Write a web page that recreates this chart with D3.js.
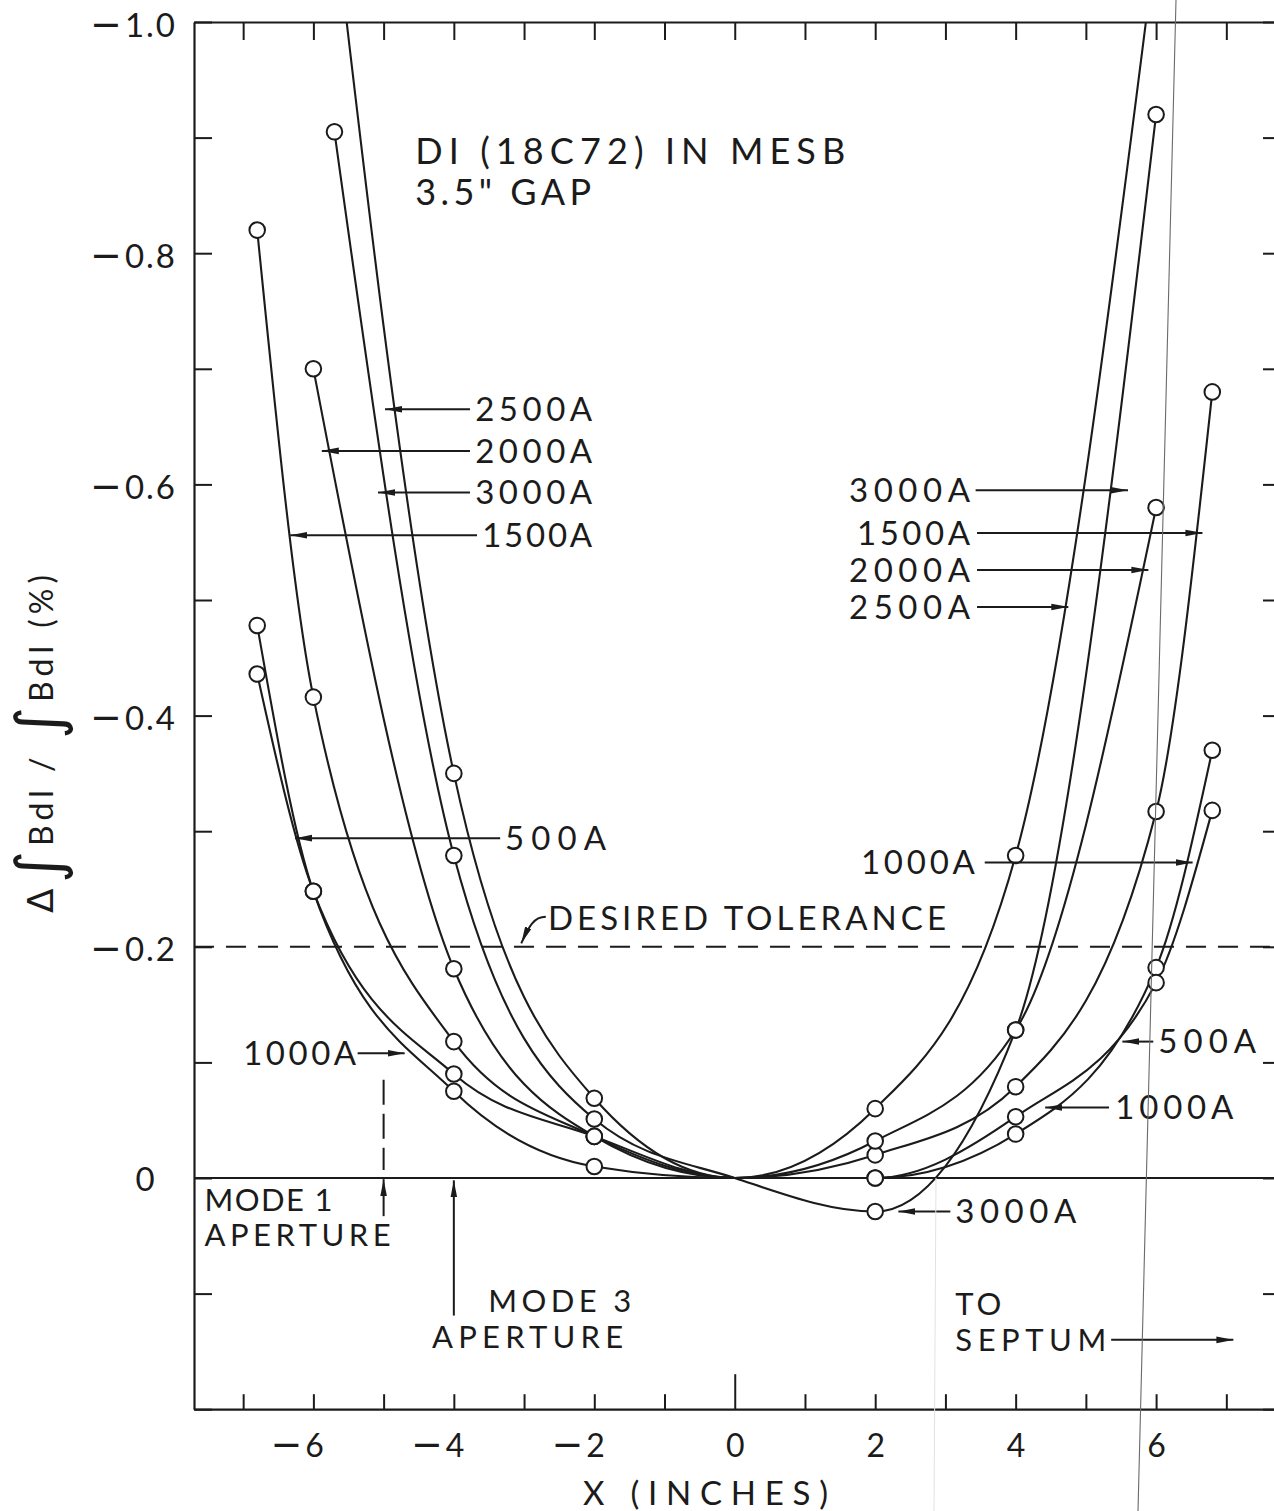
<!DOCTYPE html>
<html>
<head>
<meta charset="utf-8">
<script src="https://cdn.jsdelivr.net/npm/d3@7"></script>
<style>
  html, body { margin: 0; padding: 0; background: #fff; }
  svg text { font-family: "Lato", "DejaVu Sans", sans-serif; font-weight: 400; fill: #1b1b1b; }
</style>
</head>
<body>
<svg id="chart" width="1274" height="1511"></svg>
<script>
// Field-integral deviation of DI (18C72) in MESB, 3.5" gap, per excitation current.
// Each series: [x (inches), ΔBdl/Bdl (%)]
const currents = ["500A", "1000A", "1500A", "2000A", "2500A", "3000A"];
const pts500A  = [[-6.8, -0.478], [-6, -0.248], [-4, -0.075], [-2, -0.010], [0, 0], [2, 0.000], [4, -0.038], [6, -0.182], [6.8, -0.370]];
const pts1000A = [[-6.8, -0.436], [-6, -0.248], [-4, -0.090], [-2, -0.036], [0, 0], [2, 0.000], [4, -0.053], [6, -0.169], [6.8, -0.318]];
const pts1500A = [[-6.8, -0.820], [-6, -0.416], [-4, -0.118], [-2, -0.036], [0, 0], [2, -0.020], [4, -0.079], [6, -0.317], [6.8, -0.680]];
const pts2000A = [[-6, -0.700], [-4, -0.181], [-2, -0.036], [0, 0], [2, -0.032], [4, -0.128], [6, -0.580]];
const pts2500A = [[-6, -1.250], [-4, -0.350], [-2, -0.069], [0, 0], [2, -0.060], [4, -0.279], [6, -1.070]];
const pts3000A = [[-5.7, -0.905], [-4, -0.279], [-2, -0.051], [0, 0], [2, 0.029], [4, -0.128], [6, -0.920]];

const tolerance = -0.2;

const yLabelValues = [-1.0, -0.8, -0.6, -0.4, -0.2, 0];
const yLabelText   = ["\u22121.0", "\u22120.8", "\u22120.6", "\u22120.4", "\u22120.2", "0"];
const xLabelValues = [-6, -4, -2, 0, 2, 4, 6];
const xLabelText   = ["\u22126", "\u22124", "\u22122", "0", "2", "4", "6"];

const seriesPoints = [pts500A, pts1000A, pts1500A, pts2000A, pts2500A, pts3000A];

const W = 1274, H = 1511;
const INK = "#1b1b1b";

const x = d3.scaleLinear().domain([-7.7, 7.75]).range([194, 1279]);
const y = d3.scaleLinear().domain([-1.0, 0.2]).range([22, 1409.2]);
const [x0, x1] = x.range();
const [y0, y1] = y.range();

const svg = d3.select("#chart");
svg.append("rect").attr("width", W).attr("height", H).attr("fill", "#fff");

const defs = svg.append("defs");
defs.append("clipPath").attr("id", "plot")
  .append("rect").attr("x", x0).attr("y", y0).attr("width", x1 - x0).attr("height", y1 - y0);
defs.append("marker")
  .attr("id", "arrow").attr("viewBox", "0 -4 17 8").attr("refX", 17).attr("refY", 0)
  .attr("markerWidth", 17).attr("markerHeight", 8).attr("markerUnits", "userSpaceOnUse")
  .attr("orient", "auto")
  .append("path").attr("d", "M0,-3.3L17,0L0,3.3Z").attr("fill", INK);

// Writes a signed label with a long lettering-style minus sign.
function signedText(sel, str, minusSize, gap) {
  sel.text(null);
  if (str.startsWith("\u2212")) {
    sel.append("tspan").attr("font-family", "DejaVu Sans").attr("font-size", minusSize).text("\u2212");
    sel.append("tspan").attr("dx", gap).text(str.slice(1));
  } else {
    sel.text(str);
  }
}

// ---- axes ----
const yMinor = d3.range(-10, 3).map(i => i / 10);
const xMinor = d3.range(-7, 8);
const yFmt = v => {
  const i = yLabelValues.findIndex(u => Math.abs(u - v) < 1e-6);
  return i >= 0 ? yLabelText[i] : "";
};
const xFmt = v => {
  const i = xLabelValues.indexOf(v);
  return i >= 0 ? xLabelText[i] : "";
};

function styleAxis(g) {
  g.select(".domain").attr("stroke", INK).attr("stroke-width", 2.2);
  g.selectAll(".tick line").attr("stroke", INK).attr("stroke-width", 2);
  g.selectAll(".tick text").attr("fill", INK).attr("font-family", null);
}

const gLeft = svg.append("g").attr("transform", `translate(${x0},0)`)
  .call(d3.axisLeft(y).tickValues(yMinor).tickSizeInner(-18).tickSizeOuter(0).tickPadding(17).tickFormat(yFmt))
  .call(styleAxis);
gLeft.selectAll(".tick text").attr("font-size", 33).attr("letter-spacing", 2)
  .attr("dy", null).attr("y", 14)
  .each(function (d) { signedText(d3.select(this), yFmt(d), 38, 1); });
gLeft.selectAll(".tick").filter(d => Math.abs(d) < 1e-9).select("text")
  .attr("text-anchor", "middle").attr("x", 146 - x0).attr("y", 12);

svg.append("g").attr("transform", `translate(${x1},0)`)
  .call(d3.axisRight(y).tickValues(yMinor).tickSizeInner(-16).tickSizeOuter(0).tickFormat(() => ""))
  .call(styleAxis);

svg.append("g").attr("transform", `translate(0,${y0})`)
  .call(d3.axisTop(x).tickValues(xMinor).tickSizeInner(-18).tickSizeOuter(0).tickFormat(() => ""))
  .call(styleAxis);

const gBottom = svg.append("g").attr("transform", `translate(0,${y1})`)
  .call(d3.axisBottom(x).tickValues(xMinor).tickSizeInner(-15).tickSizeOuter(0).tickFormat(xFmt))
  .call(styleAxis);
gBottom.selectAll(".tick text").attr("font-size", 32).attr("dy", null).attr("y", 48)
  .attr("text-anchor", d => d < 0 ? "end" : "middle")
  .attr("x", d => d < 0 ? 10 : 0)
  .each(function (d) { signedText(d3.select(this), xFmt(d), 38, 3); });
gBottom.selectAll(".tick").filter(d => d === 0).select("line").attr("y2", -35);

// axis titles
svg.append("text").attr("x", 583).attr("y", 1493).attr("dy", "0.36em")
  .attr("font-size", 33).attr("textLength", 245).attr("lengthAdjust", "spacing")
  .text("X (INCHES)");

const yTitle = svg.append("text")
  .attr("transform", "translate(53,913) rotate(-90)")
  .attr("font-size", 32).attr("textLength", 338).attr("lengthAdjust", "spacing");
yTitle.append("tspan").attr("font-size", 36).attr("font-family", "DejaVu Sans").text("\u0394");
yTitle.append("tspan").attr("font-size", 62).attr("dy", 7).attr("font-family", "DejaVu Sans").text("\u222B");
yTitle.append("tspan").attr("dy", -7).text("Bdl / ");
yTitle.append("tspan").attr("font-size", 62).attr("dy", 7).attr("font-family", "DejaVu Sans").text("\u222B");
yTitle.append("tspan").attr("dy", -7).text("Bdl (%)");

// ---- reference lines ----
svg.append("line")
  .attr("x1", x0).attr("x2", x1).attr("y1", y(0)).attr("y2", y(0))
  .attr("stroke", INK).attr("stroke-width", 2.2);
svg.append("line")
  .attr("x1", x0).attr("x2", x1).attr("y1", y(tolerance)).attr("y2", y(tolerance))
  .attr("stroke", INK).attr("stroke-width", 2).attr("stroke-dasharray", "20,12");

// ---- curves and measured points ----
const line = d3.line().x(d => x(d[0])).y(d => y(d[1])).curve(d3.curveMonotoneX);
const plot = svg.append("g").attr("clip-path", "url(#plot)");

plot.selectAll("path.curve").data(seriesPoints).join("path")
  .attr("class", "curve")
  .attr("d", line)
  .attr("fill", "none").attr("stroke", INK).attr("stroke-width", 2.1);

seriesPoints.forEach((pts, i) => {
  plot.append("g").attr("class", "pts-" + currents[i])
    .selectAll("circle").data(pts.filter(d => d[0] !== 0)).join("circle")
    .attr("cx", d => x(d[0])).attr("cy", d => y(d[1])).attr("r", 7.8)
    .attr("fill", "#fff").attr("stroke", INK).attr("stroke-width", 2);
});

// ---- annotations ----
// label(text, x, value, anchor, width in px of the lettered string)
function label(txt, xv, vv, anchor, width, size = 33) {
  svg.append("text").attr("x", x(xv)).attr("y", y(vv)).attr("dy", "0.36em")
    .attr("text-anchor", anchor).attr("font-size", size)
    .attr("textLength", width).attr("lengthAdjust", "spacing")
    .text(txt);
}
function arrow(xa, va, xb, vb) {
  svg.append("line")
    .attr("x1", x(xa)).attr("y1", y(va)).attr("x2", x(xb)).attr("y2", y(vb))
    .attr("stroke", INK).attr("stroke-width", 2).attr("marker-end", "url(#arrow)");
}

label("DI (18C72) IN MESB", -4.55, -0.888, "start", 430, 36);
label("3.5\" GAP", -4.55, -0.853, "start", 176, 36);

// left-hand current labels
const lEnd = -2.03;
label(currents[4], lEnd, -0.665, "end", 117); arrow(-3.77, -0.665, -4.98, -0.665);
label(currents[3], lEnd, -0.629, "end", 117); arrow(-3.77, -0.629, -5.88, -0.629);
label(currents[5], lEnd, -0.593, "end", 117); arrow(-3.77, -0.593, -5.08, -0.593);
label(currents[2], lEnd, -0.556, "end", 110); arrow(-3.67, -0.556, -6.33, -0.556);
label(currents[0], -3.27, -0.294, "start", 101); arrow(-3.34, -0.294, -6.26, -0.294);
label(currents[1], -7.0, -0.108, "start", 113); arrow(-5.37, -0.108, -4.70, -0.108);

// right-hand current labels
const rEnd = 3.35;
label(currents[5], rEnd, -0.595, "end", 121); arrow(3.43, -0.595, 5.60, -0.595);
label(currents[2], rEnd, -0.558, "end", 113); arrow(3.45, -0.558, 6.66, -0.558);
label(currents[3], rEnd, -0.526, "end", 121); arrow(3.45, -0.526, 5.89, -0.526);
label(currents[4], rEnd, -0.494, "end", 121); arrow(3.45, -0.494, 4.75, -0.494);
label(currents[1], 3.42, -0.273, "end", 114); arrow(3.56, -0.273, 6.52, -0.273);
label(currents[0], 6.03, -0.118, "start", 98); arrow(5.96, -0.118, 5.52, -0.118);
label(currents[1], 5.42, -0.061, "start", 118); arrow(5.33, -0.061, 4.42, -0.061);
label(currents[5], 3.14, 0.029, "start", 121); arrow(3.07, 0.029, 2.33, 0.029);

// tolerance note with curved leader
label("DESIRED TOLERANCE", -2.66, -0.225, "start", 398);
svg.append("path")
  .attr("d", `M${x(-2.69)},${y(-0.226)} C${x(-2.86)},${y(-0.226)} ${x(-2.93)},${y(-0.218)} ${x(-3.04)},${y(-0.203)}`)
  .attr("fill", "none").attr("stroke", INK).attr("stroke-width", 2).attr("marker-end", "url(#arrow)");

// aperture markers
label("MODE 1", -7.55, 0.0185, "start", 128, 31);
label("APERTURE", -7.55, 0.0495, "start", 186, 31);
svg.append("line")
  .attr("x1", x(-5)).attr("x2", x(-5)).attr("y1", y(-0.085)).attr("y2", y(-0.007))
  .attr("stroke", INK).attr("stroke-width", 2).attr("stroke-dasharray", "25,9");
arrow(-5, 0.033, -5, 0.001);

label("MODE 3", -3.51, 0.106, "start", 143, 31);
label("APERTURE", -4.31, 0.137, "start", 191, 31);
arrow(-4, 0.119, -4, 0.002);

label("TO", 3.14, 0.109, "start", 46, 31);
label("SEPTUM", 3.14, 0.140, "start", 151, 31);
arrow(5.36, 0.140, 7.10, 0.140);

// thin rules running across the sheet
svg.append("line").attr("x1", 1176).attr("y1", 0).attr("x2", 1138).attr("y2", H)
  .attr("stroke", "#6a6a6a").attr("stroke-width", 1.1);
svg.append("line").attr("x1", 936).attr("y1", y(0)).attr("x2", 934).attr("y2", H)
  .attr("stroke", "#e2e2e2").attr("stroke-width", 1);
</script>
</body>
</html>
